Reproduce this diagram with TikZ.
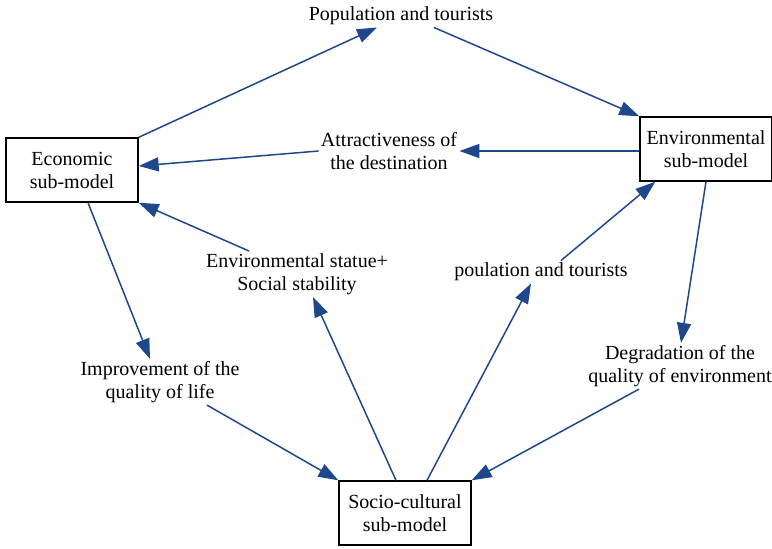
\documentclass[tikz,border=0pt]{standalone}
\usepackage{fontspec}
\setmainfont{Liberation Serif}
\usepackage{tikz}
\usetikzlibrary{positioning,arrows.meta}

\definecolor{linkblue}{RGB}{31,72,140}

\begin{document}
\begin{tikzpicture}[
		x=0.5pt, y=-0.5pt,
		font=\fontsize{10}{11.5}\selectfont,
		modelnode/.style={rectangle, draw=black, line width=0.7pt, fill=white, align=center, minimum width=66pt, minimum height=32pt, inner sep=1pt},
		textnode/.style={align=center, inner sep=1pt},
		path/.style={draw, color=linkblue, line width=0.75pt, -{Triangle[length=10pt,width=7pt]}}
		]
		\useasboundingbox (0,0) rectangle (772,548);
		
		% Nodes
		\node[modelnode] (Economic) at (72,170) {Economic\\sub-model};
		\node[modelnode] (Environment) at (706,149) {Environmental\\sub-model};
		\node[modelnode] (Social) at (405,513) {Socio-cultural\\sub-model};
		\node[textnode] (Tourists) at (401,16) {Population and tourists};
		\node[textnode] (Attract) at (389,151) {Attractiveness of\\the destination};
		\node[textnode] (Stability) at (297,274) {Environmental statue+\\Social stability};
		\node[textnode] (Poulation) at (541,272) {poulation and tourists};
		\node[textnode] (Quality) at (160,382) {Improvement of the\\quality of life};
		\node[textnode] (Degrade) at (680,366) {Degradation of the\\quality of environment};
		
		% Upper loop
		\path (Economic.north east) edge [path] ([xshift=-12pt]Tourists.south);
		\path ([xshift=16.5pt]Tourists.south) edge [path] (Environment.north west);
		\path (Environment.west |- Attract.east) edge [path] (Attract.east);
		\path (Attract.west) edge [path] ([yshift=2pt]Economic.east);
		\path ([xshift=-24pt]Stability.north) edge [path] (Economic.south east);
		
		% Lower loop
		\path ([xshift=8pt]Economic.south) edge [path] ([xshift=-5pt]Quality.north);
		\path ([xshift=23.5pt]Quality.south) edge [path] (Social.north west);
		\path ([xshift=-4.5pt]Social.north) edge [path] ([xshift=8pt]Stability.south);
		\path ([xshift=11pt]Social.north) edge [path] ([xshift=-5pt]Poulation.south);
		\path ([xshift=10pt]Poulation.north) edge [path] ([xshift=8pt]Environment.south west);
		\path (Environment.south) edge [path] ([xshift=0.5pt]Degrade.north);
		\path ([xshift=-20.5pt]Degrade.south) edge [path] (Social.north east);
	\end{tikzpicture}
\end{document}
